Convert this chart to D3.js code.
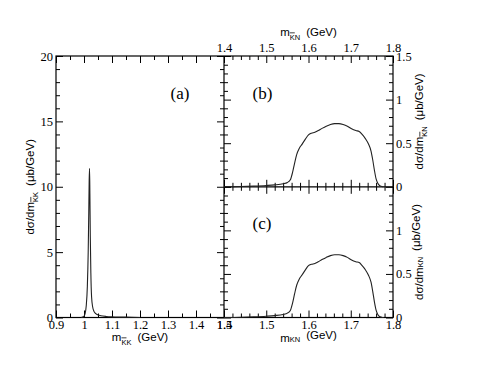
<!DOCTYPE html>
<html>
<head>
<meta charset="utf-8">
<script src="https://cdn.jsdelivr.net/npm/d3@7"></script>
<style>
  body { margin: 0; background: #fff; }
  svg { display: block; }
</style>
</head>
<body>
<svg id="chart" width="484" height="374"></svg>
<script>
// K Kbar invariant mass spectrum, panel (a)
var kkMass = [ 0.99, 0.998, 1.004, 1.008, 1.012, 1.015, 1.017, 1.0185, 1.0198, 1.021, 1.0225,
    1.0245, 1.027, 1.031, 1.036, 1.042, 1.05, 1.06, 1.08, 1.1, 1.13, 1.17, 1.2 ];
var kkXsec = [ 0, 0.05, 0.3, 0.9, 2.4, 5, 8, 10.5, 11.4, 9.5, 6.2,
    3.4, 1.6, 0.8, 0.45, 0.3, 0.2, 0.14, 0.08, 0.05, 0.03, 0.02, 0 ];

// Kbar N invariant mass spectra, panels (b) and (c)
var knMass = [ 1.40, 1.44, 1.47, 1.50, 1.52, 1.54, 1.55, 1.557, 1.562, 1.567, 1.572, 1.578,
    1.585, 1.593, 1.600, 1.607, 1.615, 1.623, 1.632, 1.642, 1.652, 1.662, 1.672, 1.682,
    1.692, 1.702, 1.712, 1.72, 1.727, 1.735, 1.742, 1.748, 1.752, 1.756, 1.760, 1.764,
    1.768, 1.773, 1.778 ];
var knXsecB = [ 0, 0.003, 0.008, 0.015, 0.022, 0.035, 0.05, 0.08, 0.16, 0.27, 0.37, 0.44,
    0.49, 0.55, 0.595, 0.615, 0.625, 0.645, 0.67, 0.695, 0.715, 0.725, 0.725, 0.715,
    0.695, 0.665, 0.645, 0.635, 0.6, 0.55, 0.49, 0.41, 0.31, 0.19, 0.09, 0.04,
    0.015, 0.004, 0 ];
var knXsecC = [ 0, 0.003, 0.008, 0.015, 0.022, 0.035, 0.05, 0.08, 0.16, 0.27, 0.37, 0.44,
    0.49, 0.55, 0.595, 0.61, 0.62, 0.64, 0.665, 0.69, 0.71, 0.72, 0.72, 0.71,
    0.69, 0.66, 0.64, 0.63, 0.595, 0.545, 0.485, 0.405, 0.3, 0.18, 0.085, 0.035,
    0.012, 0.003, 0 ];

// tick values
var kkMajor = [ 0.9, 1.0, 1.1, 1.2, 1.3, 1.4, 1.5 ];
var kkMinor = [ 0.95, 1.05, 1.15, 1.25, 1.35, 1.45 ];
var kkYMajor = [ 0, 5, 10, 15, 20 ];
var kkYMinor = [ 1, 2, 3, 4, 6, 7, 8, 9, 11, 12, 13, 14, 16, 17, 18, 19 ];
var knMajor = [ 1.4, 1.5, 1.6, 1.7, 1.8 ];
var knMinor = [ 1.42, 1.44, 1.46, 1.48, 1.52, 1.54, 1.56, 1.58, 1.62, 1.64, 1.66, 1.68,
    1.72, 1.74, 1.76, 1.78 ];
var knYMajor = [ 0, 0.5, 1, 1.5 ];
var knYMajorC = [ 0, 0.5, 1 ];
var knYMinor = [ 0.1, 0.2, 0.3, 0.4, 0.6, 0.7, 0.8, 0.9, 1.1, 1.2, 1.3, 1.4 ];

var svg = d3.select( '#chart' );

var xa = d3.scaleLinear().domain( [ 0.9, 1.5 ] ).range( [ 56, 224 ] );
var ya = d3.scaleLinear().domain( [ 0, 20 ] ).range( [ 317.5, 56 ] );
var xb = d3.scaleLinear().domain( [ 1.4, 1.8 ] ).range( [ 224, 393 ] );
var yb = d3.scaleLinear().domain( [ 0, 1.5 ] ).range( [ 186.8, 56 ] );
var yc = d3.scaleLinear().domain( [ 0, 1.5 ] ).range( [ 317.5, 186.8 ] );

var fmt = function( d ) { return String( d ); };

// one axis = major ticks (maybe labelled) + minor ticks
function axis( maker, scale, pos, majors, minors, labelled, pad ) {
    var isX = ( maker === d3.axisTop || maker === d3.axisBottom );
    var tr = isX ? 'translate(0,' + pos + ')' : 'translate(' + pos + ',0)';

    var g = svg.append( 'g' ).attr( 'transform', tr )
        .call( maker( scale ).tickValues( majors ).tickSizeInner( -7 ).tickSizeOuter( 0 )
            .tickPadding( pad || 3 ).tickFormat( labelled ? fmt : '' ) );
    g.select( '.domain' ).remove();
    g.selectAll( 'text' )
        .attr( 'font-family', '"Liberation Serif", "Times New Roman", serif' )
        .attr( 'font-size', 12.5 )
        .attr( 'fill', '#000' );
    g.selectAll( 'line' ).attr( 'stroke', '#000' );

    var m = svg.append( 'g' ).attr( 'transform', tr )
        .call( maker( scale ).tickValues( minors ).tickSizeInner( -4 ).tickSizeOuter( 0 )
            .tickFormat( '' ) );
    m.select( '.domain' ).remove();
    m.selectAll( 'line' ).attr( 'stroke', '#000' );
    return g;
}

// panel (a)
axis( d3.axisBottom, xa, 317.5, kkMajor, kkMinor, true, 3 );
axis( d3.axisTop, xa, 56, kkMajor, kkMinor, false );
axis( d3.axisLeft, ya, 56, kkYMajor, kkYMinor, true, 3 );
axis( d3.axisRight, ya, 224, kkYMajor, kkYMinor, false );

// panel (b)
axis( d3.axisTop, xb, 56, knMajor, knMinor, true, 4 );
axis( d3.axisBottom, xb, 186.8, knMajor, knMinor, false );
axis( d3.axisLeft, yb, 224, knYMajor, knYMinor, false );
axis( d3.axisRight, yb, 393, knYMajor, knYMinor, true, 3 );

// panel (c)
axis( d3.axisBottom, xb, 317.5, knMajor, knMinor, true, 3 );
axis( d3.axisTop, xb, 186.8, knMajor, knMinor, false );
axis( d3.axisLeft, yc, 224, knYMajor, knYMinor, false );
axis( d3.axisRight, yc, 393, knYMajorC, knYMinor, true, 3 );

// frames
svg.append( 'rect' )
    .attr( 'x', 56 ).attr( 'y', 56 ).attr( 'width', 337 ).attr( 'height', 261.5 )
    .attr( 'fill', 'none' ).attr( 'stroke', '#000' ).attr( 'stroke-width', 1.2 );
svg.append( 'line' )
    .attr( 'x1', 224 ).attr( 'x2', 224 ).attr( 'y1', 56 ).attr( 'y2', 317.5 )
    .attr( 'stroke', '#000' ).attr( 'stroke-width', 1.2 );
svg.append( 'line' )
    .attr( 'x1', 224 ).attr( 'x2', 393 ).attr( 'y1', 186.8 ).attr( 'y2', 186.8 )
    .attr( 'stroke', '#000' ).attr( 'stroke-width', 1.2 );

// curves
function curve( xs, ys, sx, sy ) {
    var pts = d3.zip( xs, ys );
    svg.append( 'path' )
        .datum( pts )
        .attr( 'fill', 'none' )
        .attr( 'stroke', '#222' )
        .attr( 'stroke-width', 1.1 )
        .attr( 'd', d3.line()
            .x( function( d ) { return sx( d[ 0 ] ); } )
            .y( function( d ) { return sy( d[ 1 ] ); } )
            .curve( d3.curveMonotoneX ) );
}
curve( kkMass, kkXsec, xa, ya );
curve( knMass, knXsecB, xb, yb );
curve( knMass, knXsecC, xb, yc );

// panel letters
var serif = '"Liberation Serif", "Times New Roman", serif';
var sans = '"Liberation Sans", Arial, sans-serif';
[ [ '(a)', 180, 99 ], [ '(b)', 262.5, 99 ], [ '(c)', 262, 229 ] ].forEach( function( p ) {
    svg.append( 'text' )
        .attr( 'x', p[ 1 ] ).attr( 'y', p[ 2 ] )
        .attr( 'text-anchor', 'middle' )
        .attr( 'font-family', serif ).attr( 'font-size', 17 )
        .text( p[ 0 ] );
});

// axis titles: prefix, subscript (first letter barred), suffix
function title( x, y, rot, prefix, sub1, sub2, suffix ) {
    var t = svg.append( 'text' )
        .attr( 'transform', 'translate(' + x + ',' + y + ') rotate(' + rot + ')' )
        .attr( 'text-anchor', 'middle' )
        .attr( 'font-family', sans ).attr( 'font-size', 11.5 )
        .attr( 'fill', '#000' );
    t.append( 'tspan' ).text( prefix );
    t.append( 'tspan' ).attr( 'dy', 3.5 ).attr( 'font-size', 7.5 )
        .style( 'text-decoration', 'overline' ).text( sub1 );
    t.append( 'tspan' ).attr( 'font-size', 7.5 ).text( sub2 );
    t.append( 'tspan' ).attr( 'dy', -3.5 ).attr( 'dx', 6 ).text( suffix );
}
title( 140, 341, 0, 'm', 'K', 'K', '(GeV)' );
title( 308.5, 36, 0, 'm', 'K', 'N', '(GeV)' );
title( 308.5, 342, 0, 'm', '', 'KN', '(GeV)' );
title( 34, 186.8, -90, 'd\u03c3/dm', 'K', 'K', '(\u03bcb/GeV)' );
title( 423, 121.4, -90, 'd\u03c3/dm', 'K', 'N', '(\u03bcb/GeV)' );
title( 423, 252, -90, 'd\u03c3/dm', '', 'KN', '(\u03bcb/GeV)' );
</script>
</body>
</html>
